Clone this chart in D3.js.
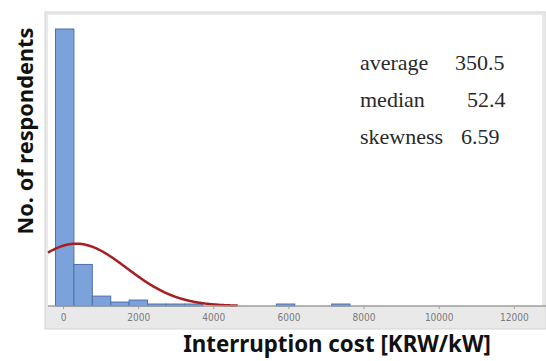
<!DOCTYPE html>
<html>
<head>
<meta charset="utf-8">
<script src="https://cdn.jsdelivr.net/npm/d3@7/dist/d3.min.js"></script>
<style>
  html, body { margin: 0; padding: 0; background: #ffffff; }
  svg { display: block; }
</style>
</head>
<body>
<svg id="chart" width="546" height="361"></svg>
<script>
// Histogram bins: first bin starts at binStart, each bin is binWidth wide
const binStart = -200;
const binWidth = 490;
const binCounts = [140, 21, 5, 2, 3, 1, 1, 1, 0, 0, 0, 0, 1, 0, 0, 1];

// Fitted normal curve parameters
const fitMean = 350.5;
const fitSd = 1350;
const fitPeak = 31.5;
const fitRange = [-400, 4650];

// Axis ticks
const xTicks = [0, 2000, 4000, 6000, 8000, 10000, 12000];

// Summary statistics box
const statNames = ["average", "median", "skewness"];
const statValues = ["350.5", "52.4", "6.59"];

// Axis titles
const xTitle = "Interruption cost [KRW/kW]";
const yTitle = "No. of respondents";

// ---- layout ----
const W = 546, H = 361;
const plotLeft = 48, plotRight = 542, plotTop = 15, axisY = 306, bandBottom = 329;

const svg = d3.select("#chart");

const x = d3.scaleLinear().domain([-400, 12750]).range([plotLeft, plotRight]);
const y = d3.scaleLinear().domain([0, 140]).range([axisY, 29]);

// outer frame
svg.append("rect")
  .attr("x", 45).attr("y", 12)
  .attr("width", W - 45).attr("height", bandBottom - 12)
  .attr("fill", "#e9e9e9")
  .attr("stroke", "#d4d4d4").attr("stroke-width", 1);

// plotting area
svg.append("rect")
  .attr("x", plotLeft).attr("y", plotTop)
  .attr("width", plotRight - plotLeft).attr("height", axisY - plotTop)
  .attr("fill", "#ffffff");

// bars
const bins = binCounts.map((c, i) => ({
  x0: binStart + i * binWidth,
  x1: binStart + (i + 1) * binWidth,
  count: c
})).filter(d => d.count > 0);

svg.append("g").selectAll("rect")
  .data(bins)
  .join("rect")
  .attr("x", d => x(d.x0))
  .attr("width", d => x(d.x1) - x(d.x0))
  .attr("y", d => y(d.count))
  .attr("height", d => y(0) - y(d.count))
  .attr("fill", "#7ba2db")
  .attr("stroke", "#4f70a8")
  .attr("stroke-width", 1);

// fitted normal curve
const curvePts = d3.range(fitRange[0], fitRange[1] + 1, 25).map(v => ({
  v,
  c: fitPeak * Math.exp(-((v - fitMean) ** 2) / (2 * fitSd * fitSd))
}));
svg.append("path")
  .datum(curvePts)
  .attr("fill", "none")
  .attr("stroke", "#a61e22")
  .attr("stroke-width", 2.5)
  .attr("stroke-linejoin", "round")
  .attr("d", d3.line().x(d => x(d.v)).y(d => y(d.c)).curve(d3.curveBasis));

// x axis
const xAxis = d3.axisBottom(x).tickValues(xTicks).tickSize(3).tickPadding(5)
  .tickFormat(d3.format("d"));
const gx = svg.append("g").attr("transform", `translate(0,${axisY})`).call(xAxis);
gx.select(".domain").attr("stroke", "#9c9c9c").attr("stroke-width", 1.5)
  .attr("d", `M${plotLeft},0H${W}`);
gx.selectAll(".tick line").attr("stroke", "#a0a0a0");
gx.selectAll(".tick text")
  .attr("fill", "#7a7a7a")
  .attr("font-family", "'Liberation Sans Narrow', 'DejaVu Sans Condensed', sans-serif")
  .attr("font-size", 10);

// statistics text
const statRowY = [70, 107, 144];
const statValueX = [455, 467, 461];
const stats = svg.append("g")
  .attr("font-family", "'Liberation Serif', 'DejaVu Serif', serif")
  .attr("font-size", 22)
  .attr("fill", "#2a2a2a");
statNames.forEach((n, i) => {
  stats.append("text").attr("x", 360).attr("y", statRowY[i]).text(n);
  stats.append("text").attr("x", statValueX[i]).attr("y", statRowY[i]).text(statValues[i]);
});

// axis titles, sized to their target spans
function fitText(sel, target) {
  const len = sel.node().getComputedTextLength();
  const fs = parseFloat(sel.attr("font-size"));
  sel.attr("font-size", fs * target / len);
}
const titleFont = "'Noto Sans', 'Open Sans', sans-serif";

const xt = svg.append("text")
  .attr("x", 337).attr("y", 352)
  .attr("text-anchor", "middle")
  .attr("font-family", titleFont)
  .attr("font-weight", "bold")
  .attr("font-size", 20)
  .attr("fill", "#111")
  .text(xTitle);
fitText(xt, 308);

const yt = svg.append("text")
  .attr("transform", "translate(33,131) rotate(-90)")
  .attr("text-anchor", "middle")
  .attr("font-family", titleFont)
  .attr("font-weight", "bold")
  .attr("font-size", 20)
  .attr("fill", "#111")
  .text(yTitle);
fitText(yt, 207);
</script>
</body>
</html>
